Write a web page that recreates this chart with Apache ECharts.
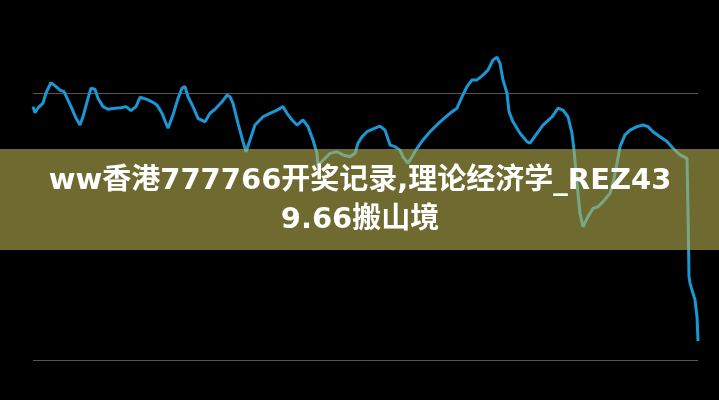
<!DOCTYPE html>
<html>
<head>
<meta charset="utf-8">
<script src="https://cdn.jsdelivr.net/npm/echarts@6/dist/echarts.min.js"></script>
<style>html,body{margin:0;padding:0;background:#000;}#c{width:719px;height:400px;}</style>
</head>
<body>
<div id="c"></div>
<script>
// time positions (x) and series values (y)
const xs = [0,2,5,10,13,18,20,23,27,31,33,38,43,47,50,55,58,62,65,70,75,82,88,93,98,103,107,114,119,124,129,135,140,145,149,152,155,160,165,172,177,182,189,194,197,200,205,210,213,217,222,230,237,244,250,254,259,264,270,275,280,284,285,287,292,297,304,310,317,322,325,329,334,342,347,352,357,362,367,370,375,379,384,390,397,407,417,424,429,434,439,444,450,455,460,464,467,470,474,476,480,487,494,497,504,510,519,525,530,535,539,541,544,547,550,555,560,565,570,577,580,584,587,592,597,604,610,615,620,627,634,640,647,654,655,656,657,659,662,664,665];
const ys = [94.9,92.6,94.4,96.2,100,103.9,104.2,102.4,101.1,100.5,99.9,94.9,90.6,88.0,91.1,98.0,101.8,101.4,98.0,94.9,93.9,94.3,94.5,94.9,93.4,94.9,98.4,97.6,96.7,95.5,92.4,86.8,91.8,98.0,101.8,102.4,98.6,94.9,90.5,89.2,92.4,93.9,96.7,99.2,98.6,96.1,88.6,81.8,78.0,82.4,88.0,91.1,92.4,93.6,94.9,92.4,89.9,88.0,89.9,87.4,82.4,77.4,72.7,73.7,75.5,77.4,78.0,76.8,76.1,77.4,81.2,83.6,85.5,86.8,87.6,86.1,80.5,79.9,78.6,76.1,73.7,76.1,79.3,82.4,85.5,89.2,92.4,94.3,98.6,102.4,104.9,104.9,106.7,108.6,112.4,113.4,111.1,104.9,99.9,93.0,89.2,84.9,81.8,81.2,84.9,88.0,91.1,94.3,93.6,91.1,84.9,78.6,66.2,54.9,49.9,53.7,56.8,57.4,59.3,62.4,66.2,73.7,79.9,84.3,86.1,87.4,88.0,87.4,85.5,83.6,81.8,79.3,76.8,75.5,56.2,31.2,28.8,26.2,22.5,16.2,7.1];
const titleText = 'ww香港777766开奖记录,理论经济学_REZ43\n9.66搬山境';

const chart = echarts.init(document.getElementById('c'));
chart.setOption({
  backgroundColor: '#000',
  animation: false,
  grid: {left: 33, right: 21, top: 93, bottom: 40},
  xAxis: {type: 'value', min: 0, max: 665, show: false},
  yAxis: {type: 'value', min: 0, max: 100, interval: 100,
    axisLine: {show: false}, axisTick: {show: false}, axisLabel: {show: false},
    splitLine: {show: true, lineStyle: {color: '#555', width: 1}}},
  series: [{
    type: 'line', showSymbol: false, clip: false,
    data: xs.map((x, i) => [x, ys[i]]),
    lineStyle: {color: '#1a98d5', width: 3}
  }],
  graphic: [
    {type: 'rect', z: 100, shape: {x: 0, y: 149, width: 719, height: 101},
     style: {fill: 'rgba(185,176,80,0.6)'}},
    {type: 'text', z: 101, x: 360, y: 201,
     style: {text: titleText, fill: '#fff', font: 'bold 29px "DejaVu Sans", "Noto Sans CJK SC"',
       align: 'center', verticalAlign: 'middle', lineHeight: 39}}
  ]
});
</script>
</body>
</html>
